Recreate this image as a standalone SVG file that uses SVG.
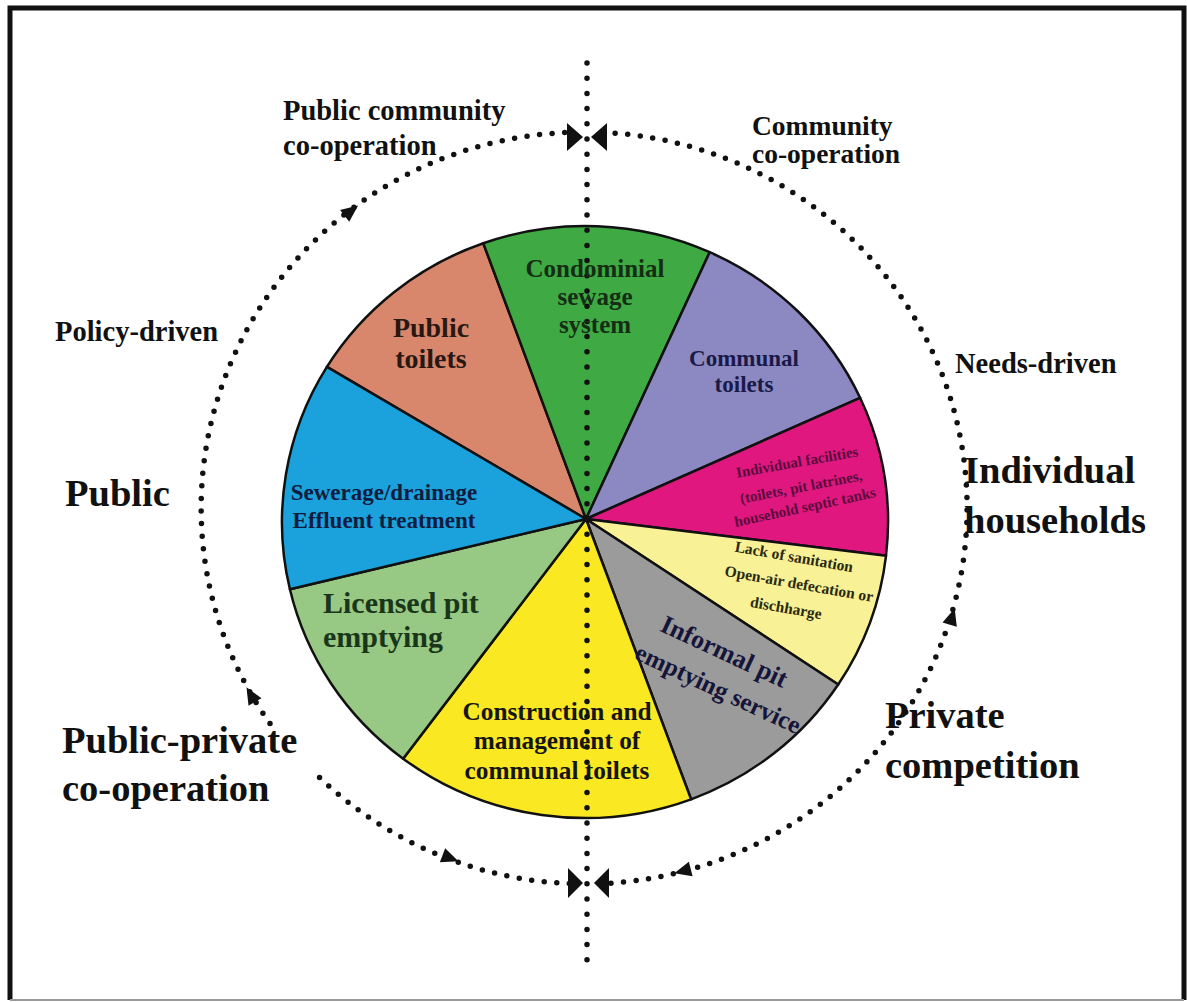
<svg xmlns="http://www.w3.org/2000/svg" width="1187" height="1002" viewBox="0 0 1187 1002">
<style>
.t{font-family:"Liberation Serif","Times New Roman",serif;font-weight:bold;fill:#111}
.big{font-size:38.5px}
.mid{font-size:28.5px}
.slice{stroke:#111;stroke-width:2.5;stroke-linejoin:round}
.ring{fill:none;stroke:#111;stroke-width:5.5;stroke-linecap:round;stroke-dasharray:0 12.6}
.vline{fill:none;stroke:#111;stroke-width:5.5;stroke-linecap:round;stroke-dasharray:0 15.2}
.ah{fill:#111}
</style>
<defs>
<polygon id="ah" points="9,0 -8,-7.5 -8,7.5"/>
</defs>
<rect x="0" y="0" width="1187" height="1002" fill="#fff"/>
<path d="M10,1000 V8 H1184 V1000" fill="none" stroke="#111" stroke-width="5"/>
<line x1="10" y1="1000" x2="1184" y2="1000" stroke="#999" stroke-width="2"/>

<g id="pie">
<path id="s-public-toilets" class="slice" fill="#D8876C" d="M586,519 L326.9,366.9 A303,296 0 0 1 483.3,243.2 Z"/>
<path id="s-condominial" class="slice" fill="#3FA944" d="M586,519 L483.3,243.2 A303,296 0 0 1 709.7,252.2 Z"/>
<path id="s-communal" class="slice" fill="#8C89C2" d="M586,519 L709.7,252.2 A303,296 0 0 1 860.1,397.8 Z"/>
<path id="s-individual" class="slice" fill="#E0177F" d="M586,519 L860.1,397.8 A303,296 0 0 1 886,555.8 Z"/>
<path id="s-lack" class="slice" fill="#F8F195" d="M586,519 L886,555.8 A303,296 0 0 1 838.2,684.5 Z"/>
<path id="s-informal" class="slice" fill="#9B9B9B" d="M586,519 L838.2,684.5 A303,296 0 0 1 691.1,799.3 Z"/>
<path id="s-construction" class="slice" fill="#FAE922" d="M586,519 L691.1,799.3 A303,296 0 0 1 403.1,758.7 Z"/>
<path id="s-licensed" class="slice" fill="#97C984" d="M586,519 L403.1,758.7 A303,296 0 0 1 289.9,589.3 Z"/>
<path id="s-sewerage" class="slice" fill="#1BA1DC" d="M586,519 L289.9,589.3 A303,296 0 0 1 326.9,366.9 Z"/>
</g>

<g id="connectors">
<path class="ring" d="M270,723.5 A382,376 0 0 1 569.3,132.4"/>
<path class="ring" d="M569.3,883.6 A382,376 0 0 1 318.5,776.5"/>
<path class="ring" d="M602.7,132.4 A382,376 0 0 1 602.7,883.6"/>
<line class="vline" x1="587" y1="63" x2="587" y2="966"/>
<polygon class="ah" points="567,123 583,137 567,151"/>
<polygon class="ah" points="607,123 591,137 607,151"/>
<polygon class="ah" points="568,868 583,883 568,898"/>
<polygon class="ah" points="609,868 594,883 609,898"/>
<use href="#ah" class="ah" transform="translate(351,211) rotate(-37.5)"/>
<use href="#ah" class="ah" transform="translate(251,695) rotate(-120)"/>
<use href="#ah" class="ah" transform="translate(450,858) rotate(20.6)"/>
<use href="#ah" class="ah" transform="translate(683,871) rotate(165.5)"/>
<use href="#ah" class="ah" transform="translate(952,617) rotate(-73)"/>
</g>

<g id="outer-labels">
<text class="t mid" x="283" y="120">Public community</text>
<text class="t mid" x="283" y="155">co-operation</text>
<text class="t" style="font-size:27.5px" x="752" y="135">Community</text>
<text class="t" style="font-size:27.5px" x="752" y="163">co-operation</text>
<text class="t mid" x="55" y="341">Policy-driven</text>
<text class="t mid" x="955" y="373">Needs-driven</text>
<text class="t big" x="65" y="506">Public</text>
<text class="t big" x="964" y="483">Individual</text>
<text class="t big" x="964" y="533">households</text>
<text class="t big" x="62" y="753">Public-private</text>
<text class="t big" x="62" y="801">co-operation</text>
<text class="t big" x="885" y="728">Private</text>
<text class="t big" x="885" y="778">competition</text>
</g>

<g id="slice-labels" text-anchor="middle">
<text class="t" style="font-size:25px;fill:#142E14" x="595" y="277">Condominial</text>
<text class="t" style="font-size:25px;fill:#142E14" x="595" y="305">sewage</text>
<text class="t" style="font-size:25px;fill:#142E14" x="595" y="333">system</text>
<text class="t" style="font-size:28px;fill:#2A1712" x="431" y="337">Public</text>
<text class="t" style="font-size:28px;fill:#2A1712" x="431" y="368">toilets</text>
<text class="t" style="font-size:23px;fill:#1A1A48" x="744" y="366">Communal</text>
<text class="t" style="font-size:23px;fill:#1A1A48" x="744" y="392">toilets</text>
<text class="t" style="font-size:23px;fill:#0F1C40" x="384" y="500">Sewerage/drainage</text>
<text class="t" style="font-size:23px;fill:#0F1C40" x="384" y="528">Effluent treatment</text>
<text class="t" style="font-size:30px;fill:#1A361A;text-anchor:start" x="323" y="613">Licensed pit</text>
<text class="t" style="font-size:30px;fill:#1A361A;text-anchor:start" x="323" y="647">emptying</text>
<text class="t" style="font-size:25.3px;fill:#151515" x="557" y="720">Construction and</text>
<text class="t" style="font-size:25.3px;fill:#151515" x="557" y="749">management of</text>
<text class="t" style="font-size:25.3px;fill:#151515" x="557" y="779">communal toilets</text>
<g transform="translate(724,652) rotate(25)"><text class="t" style="font-size:26px;fill:#15153A" x="0" y="8">Informal pit</text></g>
<g transform="translate(718,689) rotate(25)"><text class="t" style="font-size:25px;fill:#15153A" x="0" y="8">emptying service</text></g>
<g transform="translate(794,557) rotate(10)"><text class="t" style="font-size:15.5px;fill:#2A2A12" x="0" y="5">Lack of sanitation</text></g>
<g transform="translate(799,584) rotate(10)"><text class="t" style="font-size:15.5px;fill:#2A2A12" x="0" y="5">Open-air defecation or</text></g>
<g transform="translate(786,608) rotate(10)"><text class="t" style="font-size:15.5px;fill:#2A2A12" x="0" y="5">dischharge</text></g>
<g transform="translate(797,462) rotate(-10)"><text class="t" style="font-size:15px;fill:#5A0C3C" x="0" y="5">Individual facilities</text></g>
<g transform="translate(801,487) rotate(-11)"><text class="t" style="font-size:15px;fill:#5A0C3C" x="0" y="5">(toilets, pit latrines,</text></g>
<g transform="translate(805,507) rotate(-12)"><text class="t" style="font-size:15px;fill:#5A0C3C" x="0" y="5">household septic tanks</text></g>
</g>
</svg>
